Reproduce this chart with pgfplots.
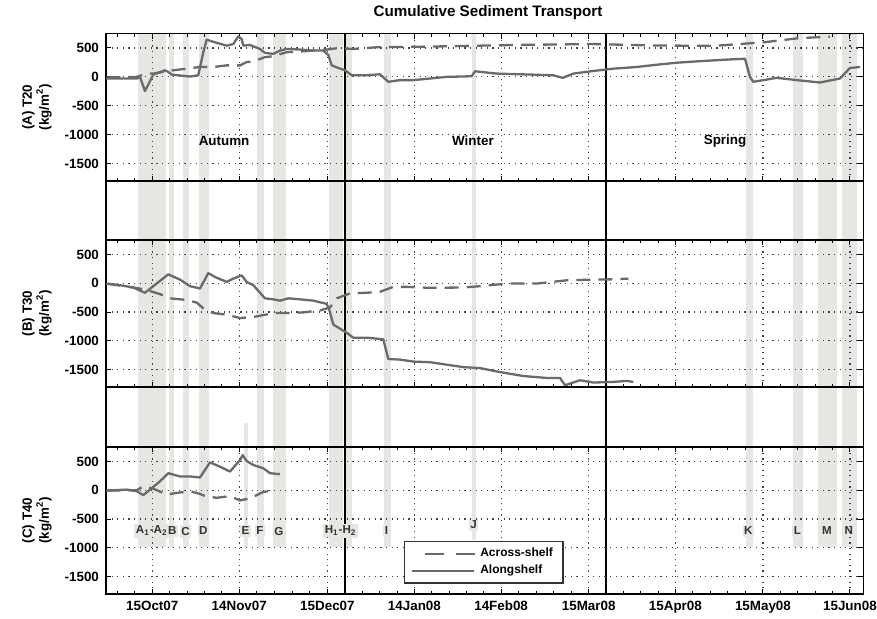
\documentclass[border=0pt]{standalone}
\usepackage{fontspec}
\setmainfont{Liberation Sans}
\usepackage{pgfplots}
\pgfplotsset{compat=1.18}
\definecolor{barc}{HTML}{E6E6E2}
\definecolor{linec}{HTML}{6A6A6A}
\newcommand{\tickfont}{\fontsize{6.7}{8}\selectfont\bfseries}
\newcommand{\labfont}{\fontsize{5.8}{7}\selectfont\bfseries}
\pgfplotsset{
  panel/.style={
    scale only axis, width=378.65pt, height=73.5pt, anchor=south west,
    xmin=-2.12, xmax=261.65, ymin=-1800, ymax=750,
    xtick={14,44.3,75,105.3,135.5,166,196.2,226.7,257},
    minor xtick={1.88,7.94,20.06,26.12,32.18,38.24,50.44,56.58,62.72,68.86,81.06,87.12,93.18,99.24,111.34,117.38,123.42,129.46,141.6,147.7,153.8,159.9,172.04,178.08,184.12,190.16,202.3,208.4,214.5,220.6,232.76,238.82,244.88,250.94},
    xticklabels={},
    ytick={-1500,-1000,-500,0,500},
    yticklabels={-1500,-1000,-500,0,500},
    grid=major,
    major grid style={black!75, line width=0.6pt, dash pattern=on 0.6pt off 2.2pt},
    tick align=inside,
    major tick length=2.6pt, minor tick length=1.6pt,
    tick style={black, line width=0.5pt},
    ticklabel style={font=\tickfont},
    axis line style={line width=0.7pt},
    ylabel style={at={(axis description cs:-0.0911,0.5)}, anchor=center, align=center, font=\tickfont},
  },
  sol/.style={linec, line width=1.15pt, line join=round, no marks},
  das/.style={linec, line width=1.15pt, no marks, dash pattern=on 7pt off 4pt},
}
\newcommand{\gbar}[4]{\addplot[fill=barc, draw=none, forget plot] coordinates {(#1,#3) (#2,#3) (#2,#4) (#1,#4)} -- cycle;}
\newcommand{\ylab}[1]{#1\\[0.5pt](kg/m\textsuperscript{2})}
\begin{document}
\begin{tikzpicture}
\path[use as bounding box] (0,0) rectangle (438.5pt,309pt);
\node[font=\fontsize{7.6}{9}\selectfont\bfseries] at (244pt,302.5pt) {Cumulative Sediment Transport};
% background axis
\begin{axis}[at={(53pt,12pt)}, anchor=south west, scale only axis, width=378.65pt, height=280.25pt,
  xmin=-2.12, xmax=261.65, ymin=0, ymax=560.5, ticks=none, axis line style={line width=0.8pt}]
\gbar{9.1}{18.7}{47}{560.5}
\gbar{19.8}{21.6}{47}{560.5}
\gbar{24.8}{26.7}{47}{560.5}
\gbar{30.4}{33.6}{47}{560.5}
\gbar{45.9}{47.3}{47}{171}
\gbar{50.6}{52.9}{47}{560.5}
\gbar{55.9}{60.5}{47}{560.5}
\gbar{75.5}{80.5}{47}{560.5}
\gbar{81.5}{83.7}{47}{560.5}
\gbar{94.7}{97.2}{47}{560.5}
\gbar{125.3}{126.6}{54}{560.5}
\gbar{220.8}{223.1}{47}{560.5}
\gbar{237.3}{240.8}{47}{560.5}
\gbar{245.8}{252.4}{47}{560.5}
\gbar{254.1}{259.6}{47}{560.5}
\addplot[black, line width=0.9pt, forget plot] coordinates {(81.1,0) (81.1,560.5)};
\addplot[black, line width=0.9pt, forget plot] coordinates {(171.9,0) (171.9,560.5)};
\begin{scope}[every node/.style={font=\labfont, text=black!80, fill=barc, inner xsep=0.8pt, inner ysep=1.2pt}]
\node at (axis cs:13.8,63) {A\textsubscript{1}-A\textsubscript{2}};
\node at (axis cs:21.0,63) {B};
\node at (axis cs:25.6,63) {C};
\node at (axis cs:31.8,63) {D};
\node at (axis cs:46.5,63) {E};
\node at (axis cs:51.5,63) {F};
\node at (axis cs:58.1,63) {G};
\node at (axis cs:79.6,63) {H\textsubscript{1}-H\textsubscript{2}};
\node at (axis cs:95.6,63) {I};
\node at (axis cs:125.9,69) {J};
\node at (axis cs:221.6,63) {K};
\node at (axis cs:238.7,63) {L};
\node at (axis cs:249,63) {M};
\node at (axis cs:256.6,63) {N};
\end{scope}
\node[font=\tickfont] at (axis cs:39,453) {Autumn};
\node[font=\tickfont] at (axis cs:125.7,453) {Winter};
\node[font=\tickfont] at (axis cs:213.5,453) {Spring};
\end{axis}
% Panel A
\begin{axis}[panel, at={(53pt,218.5pt)}, height=73.75pt, ylabel={\ylab{(A) T20}}]
\addplot[das] coordinates {(-2,-10) (8.57,0) (12.05,57) (14.35,57) (19.02,97) (21.32,114) (25.98,142) (30.62,171) (35.25,171) (39.92,199) (44.55,199) (46.88,256) (49.18,268) (53.26,341) (56.15,358) (60.81,427) (65.45,438) (70.08,455) (74.75,472) (78.23,495) (84.01,483) (92.16,512) (104.91,520) (116.54,529) (139.74,551) (167.61,568) (186.21,545) (209.41,535) (226.82,597) (238.45,665) (244.24,682) (250,695)};
\addplot[sol] coordinates {(-2,-28) (8.57,-28) (9.72,0) (11.46,-245) (14.35,40) (18.43,114) (19.57,85) (20.76,40) (24.8,17) (27.13,6) (30.02,28) (31.77,426) (32.95,643) (35.84,597) (39.92,540) (42.22,568) (43.96,700) (45.14,653) (45.7,540) (48.03,551) (51.51,483) (53.26,415) (56.15,398) (58.48,455) (60.81,483) (65.45,472) (70.08,455) (73.56,455) (75.3,380) (76.49,199) (78.79,154) (81.12,114) (83.46,28) (88.68,28) (93.31,45) (96.2,-85) (100.28,-56) (104.91,-56) (116.54,0) (125.25,11) (126.4,97) (133.96,57) (145.56,40) (153.67,28) (156.95,-17) (160.64,57) (167.61,102) (174.57,142) (182.72,171) (189.69,210) (196.66,245) (203.62,268) (215.22,302) (220.44,313) (222.18,0) (223.33,-85) (226.82,-56) (231.49,-17) (238.45,-56) (246.57,-97) (253.53,-28) (257.01,154) (260.49,171)};
\end{axis}
% Panel B
\begin{axis}[panel, at={(53pt,115.5pt)}, ylabel={\ylab{(B) T30}}]
\addplot[das] coordinates {(-2,-6) (7.38,-74) (11.46,-110) (16.68,-188) (20.17,-262) (25.98,-290) (29.47,-336) (32.36,-461) (35.25,-517) (39.92,-546) (44.55,-603) (49.18,-586) (53.26,-546) (57.33,-517) (61.96,-517) (66.6,-506) (72.41,-472) (75.9,-420) (78.23,-262) (82.86,-176) (88.68,-165) (93.31,-148) (97.94,-63) (102.61,-63) (110.73,-80) (122.33,-74) (128.14,-51) (137.44,-6) (147.89,-6) (158.34,51) (167.61,63) (174.57,68) (179.8,80)};
\addplot[sol] coordinates {(-2,-6) (2.75,-34) (7.38,-74) (11.46,-165) (14.35,-51) (19.57,154) (23.65,63) (27.13,-51) (30.62,-91) (33.51,176) (35.84,108) (39.92,23) (42.22,80) (45.14,137) (46.88,23) (49.18,-34) (53.26,-262) (56.15,-279) (58.48,-302) (61.37,-262) (65.45,-279) (70.08,-302) (74.75,-358) (75.65,-461) (77.05,-717) (81.71,-859) (84.01,-944) (88.68,-944) (94.46,-973) (96.2,-1314) (100.28,-1325) (104.91,-1359) (110.73,-1370) (122.33,-1455) (128.14,-1472) (135.11,-1541) (143.22,-1609) (151.38,-1643) (156.01,-1643) (157.75,-1769) (162.98,-1683) (167.61,-1723) (174.57,-1711) (179.24,-1694) (181.54,-1711)};
\end{axis}
% Panel C
\begin{axis}[panel, at={(53pt,12pt)}, ylabel={\ylab{(C) T40}},
  xticklabels={15Oct07,14Nov07,15Dec07,14Jan08,14Feb08,15Mar08,15Apr08,15May08,15Jun08},
  legend style={at={(axis description cs:0.499,0.215)}, anchor=center, draw=black!80, line width=0.6pt, font=\fontsize{6}{7}\selectfont\bfseries, row sep=-1.5pt, inner xsep=3pt, inner ysep=1.2pt},
  legend cell align=left,
  legend image code/.code={\draw[#1] (0pt,0pt) -- (31pt,0pt);}]
\addplot[das, legend image code/.code={\draw[linec, line width=1.15pt, dash pattern=on 9.5pt off 6.3pt, dash phase=9.5pt] (0pt,0pt) -- (31.6pt,0pt);}] coordinates {(-2,-6) (8.57,0) (10.87,68) (14.2,30) (19.02,-74) (22.5,-46) (27.13,-17) (30.62,-63) (32.36,-102) (36.43,-131) (41.06,-102) (44.55,-176) (48.03,-142) (52.67,-29) (56.15,-6)};
\addlegendentry{Across-shelf}
\addplot[sol] coordinates {(-2,-6) (5.09,11) (8.57,-17) (10.87,-85) (13.2,11) (16.68,154) (19.57,296) (23.65,239) (27.13,239) (30.62,222) (34.1,483) (37.58,409) (41.06,324) (44.55,523) (45.49,608) (46.88,506) (49.18,438) (52.67,381) (55,296) (58.48,279)};
\addlegendentry{Alongshelf}
\end{axis}
\end{tikzpicture}
\end{document}
